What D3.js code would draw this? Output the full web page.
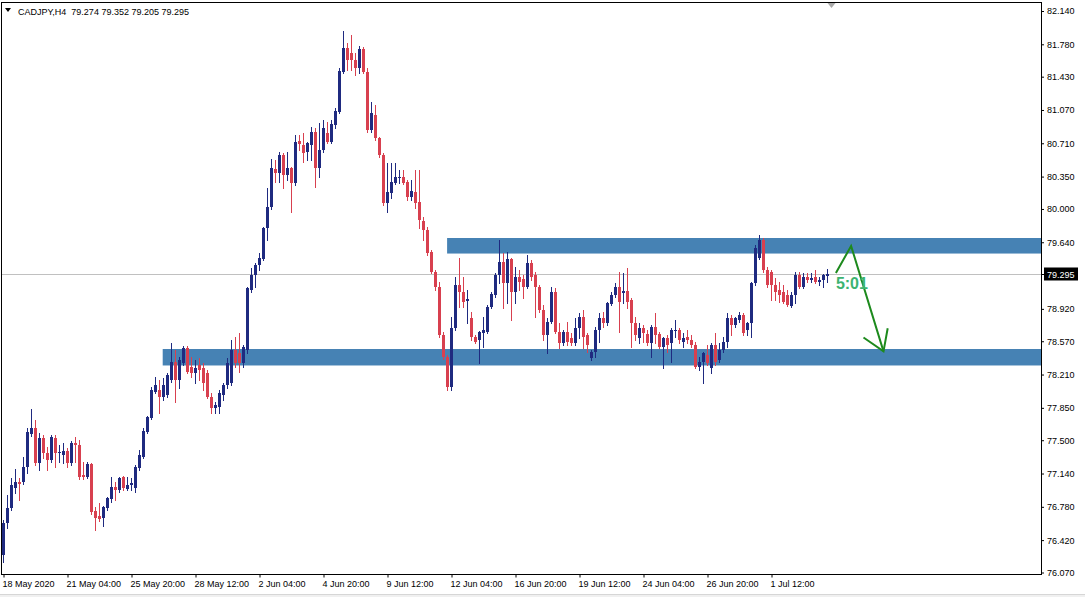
<!DOCTYPE html>
<html><head><meta charset="utf-8">
<script src="https://cdn.jsdelivr.net/npm/d3@7"></script>
<style>
html,body{margin:0;padding:0;background:#fff;}
svg{display:block;}
text{font-family:Tahoma,"Liberation Sans",Arial,sans-serif;}
</style></head>
<body>
<svg id="chart" width="1085" height="597"></svg>
<script>
// ---------------- DATA ----------------
const symbolTitle = "CADJPY,H4";
const lastOHLC = [79.274, 79.352, 79.205, 79.295];

const open = [
76.26,76.60,76.77,76.98,77.05,77.05,77.21,77.57,77.63,77.25,
77.52,77.36,77.29,77.52,77.36,77.34,77.38,77.25,77.47,77.45,
77.12,77.10,77.24,76.73,76.68,76.66,76.77,76.86,76.99,76.96,
77.10,76.97,77.02,76.98,77.20,77.32,77.59,77.74,78.02,78.04,
77.97,77.99,78.15,78.35,78.15,78.33,78.50,78.29,78.23,78.31,
78.28,78.23,77.97,77.85,77.86,77.99,78.10,78.12,78.48,78.44,
78.33,78.48,79.12,79.29,79.39,79.46,79.79,80.02,80.43,80.39,
80.58,80.37,80.44,80.28,80.73,80.69,80.62,80.69,80.83,80.44,
80.64,80.82,80.72,80.91,81.05,81.48,81.74,81.69,81.61,81.52,
81.73,81.48,80.85,81.02,80.77,80.58,80.06,80.17,80.28,80.33,
80.35,80.29,80.13,80.18,80.08,79.87,79.77,79.53,79.32,79.16,
78.64,78.40,78.08,78.71,79.18,79.10,79.00,78.82,78.62,78.58,
78.66,78.67,78.94,79.07,79.29,79.43,79.20,79.46,79.10,79.26,
79.24,79.16,79.42,79.29,79.16,78.91,78.64,78.78,79.10,78.67,
78.55,78.67,78.60,78.55,78.71,78.83,78.64,78.39,78.45,78.69,
78.82,78.77,78.97,79.07,79.16,79.09,79.11,79.02,78.77,78.60,
78.71,78.65,78.55,78.72,78.65,78.51,78.60,78.55,78.68,78.69,
78.56,78.62,78.58,78.53,78.29,78.35,78.42,78.28,78.53,78.37,
78.48,78.56,78.82,78.75,78.80,78.85,78.69,78.77,79.20,79.47,
79.66,79.34,79.32,79.18,79.12,79.10,79.07,78.95,79.07,79.29,
79.16,79.26,79.23,79.26,79.21,79.23,79.274];
const high = [
76.64,76.91,77.09,77.19,77.09,77.32,77.63,77.84,77.72,77.58,
77.56,77.43,77.56,77.56,77.45,77.47,77.42,77.49,77.53,77.50,
77.26,77.26,77.25,76.78,76.82,76.79,76.89,77.10,77.05,77.10,
77.11,77.10,77.09,77.23,77.39,77.63,77.76,78.08,78.18,78.15,
78.17,78.23,78.55,78.48,78.40,78.52,78.52,78.40,78.37,78.39,
78.33,78.26,78.01,77.91,78.04,78.12,78.39,78.58,78.62,78.66,
78.53,79.16,79.36,79.42,79.52,79.80,80.23,80.54,80.53,80.62,
80.61,80.62,80.45,80.80,80.80,80.82,80.72,80.89,80.88,80.93,
80.96,80.94,80.96,81.09,81.52,81.92,81.79,81.88,81.69,81.76,
81.75,81.52,81.16,81.12,80.78,80.61,80.50,80.50,80.50,80.42,
80.42,80.31,80.31,80.42,80.42,79.91,79.80,79.56,79.34,79.21,
78.67,78.42,78.83,79.26,79.47,79.26,79.12,78.89,78.64,78.68,
78.83,78.96,79.10,79.31,79.66,79.52,79.53,79.47,79.37,79.34,
79.29,79.50,79.45,79.32,79.18,78.96,78.82,79.16,79.15,78.77,
78.69,78.78,78.66,78.82,78.88,78.91,78.66,78.48,78.72,78.88,
78.89,78.99,79.10,79.20,79.32,79.31,79.36,79.04,78.83,78.77,
78.75,78.69,78.75,78.88,78.67,78.62,78.64,78.71,78.80,78.71,
78.66,78.69,78.64,78.56,78.40,78.45,78.53,78.55,78.66,78.55,
78.62,78.88,78.85,78.83,78.89,78.88,78.78,79.21,79.61,79.72,
79.69,79.37,79.34,79.25,79.21,79.18,79.12,79.10,79.32,79.32,
79.31,79.31,79.31,79.34,79.26,79.30,79.352];
const low = [
76.18,76.55,76.75,76.93,76.85,77.03,77.15,77.55,77.23,77.18,
77.31,77.18,77.26,77.21,77.26,77.25,77.21,77.23,77.26,77.08,
77.08,77.09,76.70,76.53,76.63,76.57,76.75,76.83,76.85,76.94,
76.96,76.96,76.96,76.94,77.18,77.31,77.58,77.73,78.01,77.79,
77.94,77.97,78.13,77.91,78.06,78.31,78.23,78.18,78.12,78.15,
78.04,77.96,77.79,77.79,77.79,77.94,78.06,78.10,78.29,78.24,
78.29,78.44,79.10,79.16,79.34,79.45,79.66,80.00,80.29,80.29,
80.23,80.31,79.97,80.26,80.64,80.51,80.53,80.53,80.24,80.35,
80.62,80.71,80.71,80.88,81.04,81.47,81.50,81.50,81.45,81.47,
81.47,80.83,80.83,80.75,80.56,80.04,79.97,80.12,80.27,80.28,
80.27,80.10,80.10,80.01,79.79,79.66,79.50,79.31,79.12,78.62,
78.38,78.04,78.04,78.69,78.94,78.94,78.77,78.58,78.55,78.33,
78.51,78.66,78.93,79.05,79.20,78.93,78.98,78.80,78.98,79.12,
79.04,79.15,79.23,78.83,78.89,78.58,78.44,78.77,78.66,78.50,
78.53,78.53,78.53,78.53,78.60,78.50,78.45,78.37,78.40,78.56,
78.72,78.75,78.96,79.05,78.67,78.98,78.93,78.51,78.58,78.55,
78.56,78.53,78.40,78.55,78.50,78.28,78.45,78.35,78.62,78.55,
78.51,78.55,78.51,78.28,78.26,78.12,78.31,78.23,78.31,78.35,
78.45,78.51,78.64,78.72,78.78,78.64,78.64,78.62,79.18,79.46,
79.32,79.16,79.02,79.02,78.99,78.98,78.95,78.94,78.98,79.15,
79.15,79.21,79.21,79.20,79.18,79.16,79.205];
const close = [
76.60,76.77,77.02,77.05,77.03,77.21,77.59,77.63,77.25,77.52,
77.36,77.29,77.53,77.36,77.37,77.38,77.25,77.47,77.45,77.10,
77.10,77.24,76.72,76.66,76.65,76.78,76.88,76.99,76.96,77.09,
76.98,77.02,77.04,77.21,77.34,77.60,77.75,78.04,78.10,77.97,
78.10,78.20,78.35,78.15,78.37,78.50,78.24,78.23,78.28,78.26,
78.12,77.97,77.85,77.88,78.01,78.10,78.33,78.48,78.33,78.33,
78.51,79.15,79.29,79.39,79.47,79.79,80.02,80.44,80.39,80.58,
80.37,80.44,80.28,80.72,80.70,80.60,80.71,80.83,80.44,80.64,
80.88,80.72,80.92,81.06,81.49,81.74,81.61,81.61,81.52,81.73,
81.48,80.85,81.04,80.77,80.58,80.06,80.18,80.29,80.35,80.35,
80.28,80.13,80.19,80.06,79.88,79.77,79.52,79.32,79.16,78.64,
78.40,78.08,78.71,79.18,79.10,78.99,79.03,78.62,78.56,78.67,
78.69,78.94,79.08,79.29,79.43,79.20,79.46,79.10,79.26,79.21,
79.16,79.42,79.26,79.16,78.91,78.64,78.78,79.10,78.67,78.55,
78.67,78.56,78.55,78.71,78.83,78.62,78.53,78.45,78.69,78.82,
78.77,78.98,79.07,79.16,78.99,79.11,78.99,78.77,78.64,78.71,
78.66,78.55,78.72,78.64,78.51,78.60,78.53,78.69,78.69,78.58,
78.60,78.58,78.53,78.29,78.35,78.44,78.33,78.53,78.35,78.48,
78.56,78.82,78.75,78.82,78.85,78.66,78.77,79.20,79.58,79.66,
79.34,79.18,79.18,79.10,79.07,78.99,78.96,79.07,79.29,79.16,
79.26,79.23,79.25,79.21,79.23,79.29,79.295];

// axis ticks
const priceTicks = [82.140,81.780,81.430,81.070,80.710,80.350,80.000,79.640,78.920,78.570,78.210,77.850,77.500,77.140,76.780,76.420,76.070];
const timeTickBars = [0,16,32,48,64,80,96,112,128,144,160,176,192];
const timeTickLabels = ["18 May 2020","21 May 04:00","25 May 20:00","28 May 12:00","2 Jun 04:00","4 Jun 20:00","9 Jun 12:00","12 Jun 04:00","16 Jun 20:00","19 Jun 12:00","24 Jun 04:00","26 Jun 20:00","1 Jul 12:00"];

// zones: [startBar, topPrice, bottomPrice]
const zoneStart = [39.8, 110.9];
const zoneTop = [78.486, 79.686];
const zoneBottom = [78.308, 79.518];

// projection arrow (bar index, price)
const arrowPath = [[208.1,79.308],[211.9,79.60],[220.0,78.46]];
const arrowHeadLeft = [215.0,78.61];
const arrowHeadRight = [221.05,78.71];
const noteText = "5:01";
const notePos = [208.1, 79.14];

// ---------------- DRAW ----------------
const svg = d3.select("#chart");
const W = 1085, H = 597;
const plot = {left:1.5, top:2.5, right:1041.5, bottom:574.5};
const N = close.length;

const x = d3.scaleLinear().domain([0, 1]).range([3.5, 7.5]);
const y = d3.scaleLinear().domain([76.07, 82.14]).range([572.5, 11]);

svg.append("rect").attr("x",0).attr("y",0).attr("width",W).attr("height",H).attr("fill","#fff");
svg.append("rect").attr("x",0).attr("y",595).attr("width",W).attr("height",2).attr("fill","#f0f0f0");
svg.append("line").attr("x1",0).attr("x2",W).attr("y1",594.5).attr("y2",594.5).attr("stroke","#d6d6d6");

const clip = svg.append("defs").append("clipPath").attr("id","pc").append("rect")
  .attr("x",plot.left).attr("y",plot.top).attr("width",plot.right-plot.left).attr("height",plot.bottom-plot.top);
const g = svg.append("g").attr("clip-path","url(#pc)");

// zones
g.selectAll("rect.zone").data(zoneStart).join("rect").attr("class","zone")
  .attr("x",d=>x(d)).attr("width",(d)=>plot.right - x(d))
  .attr("y",(d,i)=>y(zoneTop[i])).attr("height",(d,i)=>y(zoneBottom[i])-y(zoneTop[i]))
  .attr("fill","#4682b4");

// bid line
const bidY = Math.round(y(lastOHLC[3])) + 0.5;
g.append("line").attr("x1",plot.left).attr("x2",plot.right).attr("y1",bidY).attr("y2",bidY)
  .attr("stroke","#c0c0c0").attr("stroke-width",1);

// candles
const bull = "#1f2a80", bear = "#d8404f";
const idx = d3.range(N);
const cg = g.append("g").attr("shape-rendering","crispEdges");
cg.selectAll("rect.wick").data(idx).join("rect").attr("class","wick")
  .attr("x",i=>x(i)-0.5).attr("width",1)
  .attr("y",i=>Math.round(y(high[i])))
  .attr("height",i=>Math.max(1,Math.round(y(low[i]))-Math.round(y(high[i]))+1))
  .attr("fill",i=>close[i]>=open[i]?bull:bear);
cg.selectAll("rect.body").data(idx).join("rect").attr("class","body")
  .attr("x",i=>x(i)-1.5).attr("width",3)
  .attr("y",i=>Math.round(y(Math.max(open[i],close[i]))))
  .attr("height",i=>Math.max(1,Math.round(y(Math.min(open[i],close[i])))-Math.round(y(Math.max(open[i],close[i])))))
  .attr("fill",i=>close[i]>=open[i]?bull:bear);

// arrow
const green = "#1d8a1d";
const line = d3.line().x(d=>x(d[0])).y(d=>y(d[1]));
g.append("path").attr("d",line(arrowPath)).attr("fill","none").attr("stroke",green).attr("stroke-width",2);
const tip = arrowPath[arrowPath.length-1];
g.append("path").attr("d",line([arrowHeadLeft,tip,arrowHeadRight])).attr("fill","none").attr("stroke",green).attr("stroke-width",2);
g.append("text").attr("x",x(notePos[0])).attr("y",y(notePos[1])).text(noteText)
  .attr("fill","#3cb371").attr("font-weight","bold").attr("font-size",16)
  .style("font-family","'Liberation Sans',Arial,sans-serif");

// frame
svg.append("rect").attr("x",plot.left).attr("y",plot.top).attr("width",plot.right-plot.left).attr("height",plot.bottom-plot.top)
  .attr("fill","none").attr("stroke","#000").attr("stroke-width",1);

// right price axis
const yAxis = d3.axisRight(y).tickValues(priceTicks).tickSize(3).tickPadding(3).tickFormat(d3.format(".3f"));
const ya = svg.append("g").attr("transform",`translate(${plot.right-0.5},0)`).call(yAxis);
ya.select(".domain").remove();
ya.selectAll("text").attr("font-size",9).attr("fill","#000").style("font-family","Tahoma,'Liberation Sans',Arial,sans-serif");
ya.selectAll("line").attr("stroke","#000");

// current price label
const bl = svg.append("g");
bl.append("rect").attr("x",1044).attr("y",bidY-7).attr("width",34).attr("height",13).attr("fill","#000");
bl.append("line").attr("x1",plot.right).attr("x2",1044).attr("y1",bidY).attr("y2",bidY).attr("stroke","#000");
bl.append("text").attr("x",1047).attr("y",bidY).attr("dy","0.34em").text(d3.format(".3f")(lastOHLC[3]))
  .attr("fill","#fff").attr("font-size",9);

// bottom time axis
const xAxis = d3.axisBottom(x).tickValues(timeTickBars).tickSize(3).tickPadding(3)
  .tickFormat((d,i)=>timeTickLabels[i]);
const xa = svg.append("g").attr("transform",`translate(0,${plot.bottom})`).call(xAxis);
xa.select(".domain").remove();
xa.selectAll("line").attr("stroke","#000");
xa.selectAll("text").attr("text-anchor","start").attr("dx",-1.5).attr("font-size",9).attr("fill","#000")
  .style("font-family","Tahoma,'Liberation Sans',Arial,sans-serif");

// title
svg.append("path").attr("d","M5,8 L11,8 L8,12 Z").attr("fill","#000");
svg.append("text").attr("x",18).attr("y",15).attr("font-size",9).attr("fill","#000")
  .style("white-space","pre")
  .text(symbolTitle + "  " + lastOHLC.map(d3.format(".3f")).join(" "));

// chart-shift marker
svg.append("path").attr("d",`M${x(206)},3 L${x(208)},3 L${x(207)},8 Z`).attr("fill","#a9a9a9");
</script>
</body></html>
